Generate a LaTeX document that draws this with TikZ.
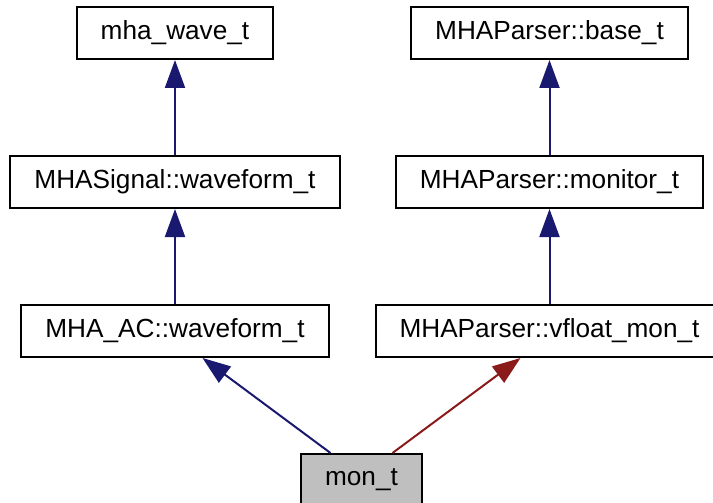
\documentclass[tikz,border=0pt]{standalone}
\usepackage{fontspec}
\setmainfont{Liberation Sans}
\usetikzlibrary{positioning,arrows.meta}
\definecolor{edgeblue}{RGB}{25,25,112}
\definecolor{edgered}{RGB}{139,26,26}

\begin{document}
\begin{tikzpicture}[
    x=1pt, y=1pt,
    node distance=149pt,
    classbox/.style={
        rectangle,
        minimum height=52pt,
        inner xsep=24pt,
        draw=black,
        line width=2pt,
        fill=white,
        font=\fontsize{26.2}{30}\selectfont
    },
    focusbox/.style={
        classbox,
        fill=black!25
    },
    inherit/.style={line width=2pt, draw=edgeblue, -{Triangle[width=20pt,length=28pt]}},
    privinherit/.style={line width=2pt, draw=edgered, -{Triangle[width=20pt,length=28pt]}}
]
\useasboundingbox (0,0) rectangle (713,-503);

\node (mhawave) [classbox] at (175,-33) {mha\_wave\_t};
\node (base) [classbox] at (549.5,-33) {MHAParser::base\_t};

\node (mhasig) [classbox, below of=mhawave] {MHASignal::waveform\_t};
\node (monitor) [classbox, below of=base] {MHAParser::monitor\_t};

\node (acwave) [classbox, below of=mhasig] {MHA\_AC::waveform\_t};
\node (vfloat) [classbox, below of=monitor] {MHAParser::vfloat\_mon\_t};

\node (mont) [focusbox] at (361.5,-480) {mon\_t};

\draw [inherit] (mhasig) -- (mhawave);
\draw [inherit] (monitor) -- (base);
\draw [inherit] (acwave) -- (mhasig);
\draw [inherit] (vfloat) -- (monitor);
\draw [inherit] ([xshift=-31pt]mont.north) -- ([xshift=27.5pt]acwave.south);
\draw [privinherit] ([xshift=31pt]mont.north) -- ([xshift=-29pt]vfloat.south);

\end{tikzpicture}
\end{document}
